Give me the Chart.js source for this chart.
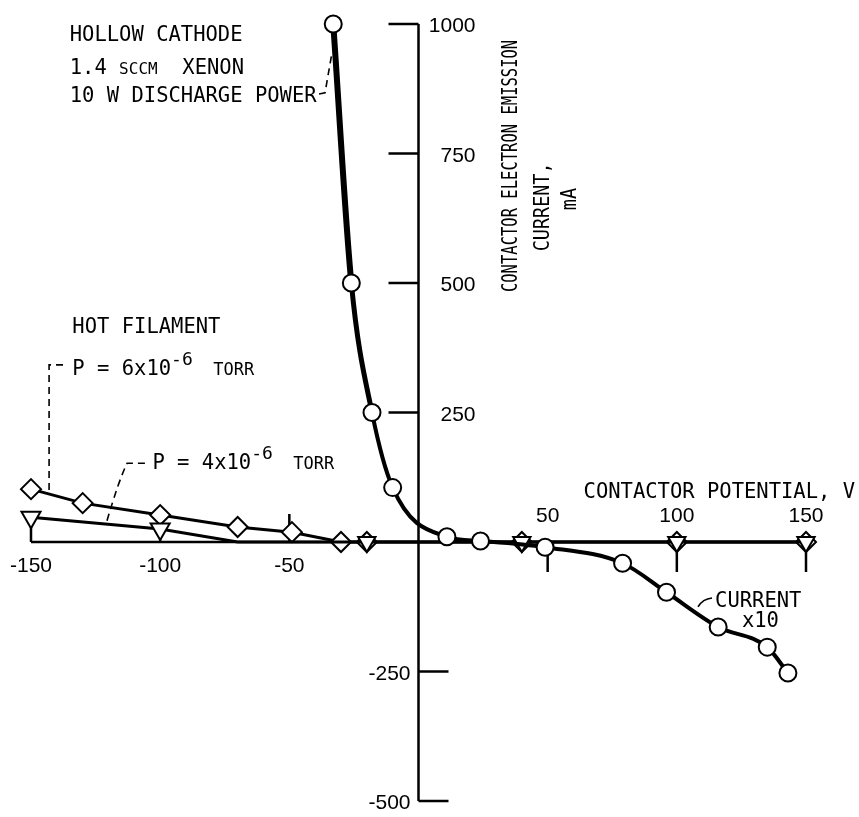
<!DOCTYPE html>
<html>
<head>
<meta charset="utf-8">
<script src="https://cdn.jsdelivr.net/npm/chart.js@4.4.0/dist/chart.umd.min.js"></script>
<style>
  html, body { margin: 0; padding: 0; background: #fff; }
  #wrap { width: 859px; height: 817px; }
</style>
</head>
<body>
<div id="wrap"><canvas id="chart"></canvas></div>
<script>
// Cátodo hueco (círculos)
const cathodeV = [-33, -26, -18, -10, 11, 24, 49, 79, 96, 116, 135, 143];
const cathodeI = [1000, 500, 250, 105, 10, 2, -10, -41, -97, -164, -203, -253];

// Filamento caliente, P = 6x10^-6 torr (rombos)
const fil6V = [-150, -130, -100, -70, -49, -30, -20, 40, 100, 150];
const fil6I = [102, 75, 52, 29, 19, 0, 0, 0, 0, 0];

// Filamento caliente, P = 4x10^-6 torr (triángulos)
const fil4V = [-150, -100, -70, -20, 40, 100, 150];
const fil4I = [48, 25, 0, 0, 0, 0, 0];

// Marcas de los ejes
const xTicks = [-150, -100, -50, 50, 100, 150];
const yTicks = [1000, 750, 500, 250, -250, -500];

const MONO = '"DejaVu Sans Mono", monospace';
const SANS = '"Liberation Sans", Arial, sans-serif';

function toPoints(xs, ys) {
  return xs.map((v, i) => ({ x: v, y: ys[i] }));
}

// texto con tramos de distinto tamaño (versalitas, exponentes)
function richText(ctx, segs, x, y) {
  let cx = x;
  for (const s of segs) {
    ctx.font = s.size + 'px ' + MONO;
    ctx.fillText(s.t, cx, y - (s.dy || 0));
    cx += ctx.measureText(s.t).width;
  }
}

function vText(ctx, str, cx, cy, size, sx) {
  ctx.save();
  ctx.translate(cx, cy);
  ctx.rotate(-Math.PI / 2);
  ctx.scale(sx, 1);
  ctx.font = size + 'px ' + MONO;
  ctx.textAlign = 'center';
  ctx.textBaseline = 'alphabetic';
  ctx.fillText(str, 0, size * 0.365);
  ctx.restore();
}

const axesPlugin = {
  id: 'axes',
  beforeDatasetsDraw(chart) {
    const { ctx, scales: { x, y } } = chart;
    const px = v => x.getPixelForValue(v);
    const py = v => y.getPixelForValue(v);
    const x0 = px(0), y0 = py(0);

    ctx.save();
    ctx.strokeStyle = '#000';
    ctx.lineWidth = 2.5;
    ctx.beginPath();
    ctx.moveTo(px(-150), y0);
    ctx.lineTo(px(152), y0);
    ctx.moveTo(x0, py(1000));
    ctx.lineTo(x0, py(-500));

    for (const t of xTicks) {
      ctx.moveTo(px(t), y0);
      ctx.lineTo(px(t), t < 0 ? y0 - 28 : y0 + 30);
    }
    for (const t of yTicks) {
      ctx.moveTo(x0, py(t));
      ctx.lineTo(t > 0 ? x0 - 30 : x0 + 30, py(t));
    }
    ctx.stroke();
    ctx.restore();
  },
  afterDatasetsDraw(chart) {
    const { ctx, scales: { x, y } } = chart;
    const px = v => x.getPixelForValue(v);
    const py = v => y.getPixelForValue(v);
    const x0 = px(0), y0 = py(0);

    ctx.save();
    ctx.fillStyle = '#000';
    ctx.strokeStyle = '#000';

    // números de los ejes
    ctx.font = '21px ' + SANS;
    ctx.textBaseline = 'alphabetic';
    for (const t of xTicks) {
      ctx.textAlign = 'center';
      const cy = t < 0 ? y0 + 22 : y0 - 28;
      ctx.fillText(String(t), px(t), cy + 7.5);
    }
    for (const t of yTicks) {
      ctx.textAlign = 'right';
      const xx = t > 0 ? x0 + 57 : x0 - 8;
      ctx.fillText(String(t), xx, py(t) + 8);
    }

    // rótulos
    ctx.textAlign = 'left';
    richText(ctx, [{ t: 'HOLLOW CATHODE', size: 20.5 }], px(-135), py(967));
    richText(ctx, [
      { t: '1.4 ', size: 20.5 },
      { t: 'SCCM', size: 16 },
      { t: '  XENON', size: 20.5 }
    ], px(-135), py(903));
    richText(ctx, [{ t: '10 W DISCHARGE POWER', size: 20.5 }], px(-135), py(849));

    richText(ctx, [{ t: 'HOT FILAMENT', size: 20.5 }], px(-134), py(403));
    richText(ctx, [
      { t: 'P = 6x10', size: 20.5 },
      { t: '-6', size: 18, dy: 10 },
      { t: '  ', size: 17 },
      { t: 'TORR', size: 17 }
    ], px(-134), py(322));
    richText(ctx, [
      { t: 'P = 4x10', size: 20.5 },
      { t: '-6', size: 18, dy: 10 },
      { t: '  ', size: 17 },
      { t: 'TORR', size: 17 }
    ], px(-103), py(141));

    ctx.textAlign = 'right';
    ctx.font = '20.5px ' + MONO;
    ctx.fillText('CONTACTOR POTENTIAL, V', px(169), py(85));

    ctx.textAlign = 'left';
    ctx.fillText('CURRENT', px(114.8), py(-125));
    ctx.fillText('x10', px(125.2), py(-164));

    // título del eje vertical
    vText(ctx, 'CONTACTOR ELECTRON EMISSION', px(35.4), py(726), 20.5, 0.757);
    vText(ctx, 'CURRENT,', px(47.8), py(647), 20.5, 0.9);
    vText(ctx, 'mA', px(57.9), py(662), 20.5, 0.9);

    // líneas de referencia
    ctx.lineWidth = 1.6;
    ctx.setLineDash([7, 5]);
    ctx.beginPath();
    ctx.moveTo(px(-38.5), py(865));
    ctx.lineTo(px(-36.2), py(867));
    ctx.lineTo(px(-33.5), py(944));
    ctx.moveTo(px(-137.6), py(342));
    ctx.lineTo(px(-143), py(342));
    ctx.lineTo(px(-143), py(93));
    ctx.moveTo(px(-105.9), py(152));
    ctx.lineTo(px(-112.8), py(152));
    ctx.quadraticCurveTo(px(-116), py(120), px(-121), py(34));
    ctx.stroke();

    ctx.setLineDash([]);
    ctx.beginPath();
    ctx.moveTo(px(108.2), py(-125));
    ctx.quadraticCurveTo(px(110), py(-110), px(113.6), py(-108));
    ctx.stroke();
    ctx.restore();
  }
};

new Chart(document.getElementById('chart'), {
  type: 'scatter',
  data: {
    datasets: [
      {
        data: toPoints(cathodeV, cathodeI),
        showLine: true,
        borderColor: '#000',
        borderWidth: 4,
        segment: {
          borderWidth: c => (c.p0DataIndex === 0 ? 6 : c.p0DataIndex === 1 ? 5 : 4)
        },
        cubicInterpolationMode: 'monotone',
        pointStyle: 'circle',
        pointRadius: 8.5,
        pointBackgroundColor: '#fff',
        pointBorderColor: '#000',
        pointBorderWidth: 2,
        clip: false
      },
      {
        data: toPoints(fil4V, fil4I),
        showLine: true,
        borderColor: '#000',
        borderWidth: 3,
        tension: 0,
        pointStyle: 'triangle',
        pointRotation: 180,
        pointRadius: [11, 11, 0, 10, 10, 10, 10],
        pointBackgroundColor: '#fff',
        pointBorderColor: '#000',
        pointBorderWidth: 2,
        clip: false
      },
      {
        data: toPoints(fil6V, fil6I),
        showLine: true,
        borderColor: '#000',
        borderWidth: 3,
        tension: 0,
        pointStyle: 'rectRot',
        pointRadius: 10,
        pointBackgroundColor: '#fff',
        pointBorderColor: '#000',
        pointBorderWidth: 2,
        clip: false
      }
    ]
  },
  options: {
    responsive: true,
    maintainAspectRatio: false,
    animation: false,
    layout: { padding: { left: 31, right: 53, top: 24, bottom: 16 } },
    plugins: {
      legend: { display: false },
      tooltip: { enabled: false }
    },
    scales: {
      x: { type: 'linear', min: -150, max: 150, display: false },
      y: { type: 'linear', min: -500, max: 1000, display: false }
    }
  },
  plugins: [axesPlugin]
});
</script>
</body>
</html>
